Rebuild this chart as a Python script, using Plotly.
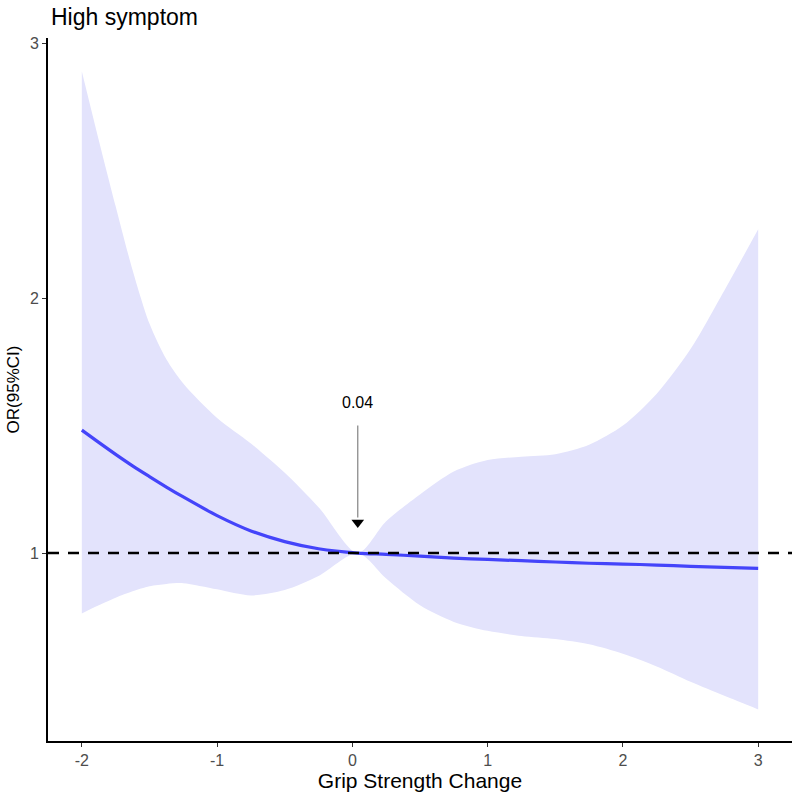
import plotly.graph_objects as go

x_vals = [-2, -1.875, -1.75, -1.625, -1.5, -1.375, -1.25, -1, -0.75, -0.5, -0.25, 0.04, 0.25, 0.5, 0.75,
          1, 1.25, 1.5, 1.75, 2, 2.25, 2.5, 2.75, 3]
or_vals = [1.482, 1.434, 1.387, 1.342, 1.30, 1.259, 1.22, 1.147, 1.087, 1.045, 1.017, 1.0, 0.995, 0.988, 0.98,
           0.975, 0.97, 0.965, 0.96, 0.957, 0.953, 0.948, 0.944, 0.94]
upper_vals = [2.89, 2.62, 2.36, 2.11, 1.90, 1.76, 1.665, 1.53, 1.43, 1.315, 1.18, 1.0, 1.125, 1.23, 1.32,
              1.365, 1.378, 1.388, 1.425, 1.50, 1.625, 1.80, 2.03, 2.27]
lower_vals = [0.763, 0.795, 0.825, 0.85, 0.87, 0.879, 0.882, 0.858, 0.834, 0.855, 0.91, 1.0, 0.90, 0.795, 0.73,
              0.695, 0.675, 0.663, 0.642, 0.605, 0.555, 0.495, 0.44, 0.387]
x_ticks = [-2, -1, 0, 1, 2, 3]
y_ticks = [1, 2, 3]
ref_x = 0.04
ref_label = "0.04"
arrow_top = 1.50
arrow_tip = 1.12
label_y = 1.592

band_color = "rgb(227,227,252)"
line_color = "rgb(68,68,250)"
font_family = "Liberation Sans, Arial"

fig = go.Figure()
fig.add_trace(go.Scatter(x=x_vals, y=lower_vals, mode="lines", line=dict(width=0, shape="spline", smoothing=0.8),
                         showlegend=False, hoverinfo="skip"))
fig.add_trace(go.Scatter(x=x_vals, y=upper_vals, mode="lines", line=dict(width=0, shape="spline", smoothing=0.8),
                         fill="tonexty", fillcolor=band_color, showlegend=False, hoverinfo="skip"))
fig.add_trace(go.Scatter(x=x_vals, y=or_vals, mode="lines",
                         line=dict(color=line_color, width=3.2, shape="spline", smoothing=0.8),
                         showlegend=False))
# arrow shaft
fig.add_trace(go.Scatter(x=[ref_x, ref_x], y=[arrow_top, arrow_tip + 0.02], mode="lines",
                         line=dict(color="rgb(130,130,130)", width=1.2), showlegend=False, hoverinfo="skip"))
# arrow head
fig.add_trace(go.Scatter(x=[ref_x], y=[arrow_tip], mode="markers",
                         marker=dict(symbol="triangle-down", size=11, color="black"),
                         showlegend=False, hoverinfo="skip"))

fig.add_shape(type="line", xref="paper", yref="y", x0=0, x1=1, y0=1, y1=1,
              line=dict(color="black", width=2.6, dash="11px,9px"), layer="above")

fig.add_annotation(x=ref_x, y=label_y, text=ref_label, showarrow=False,
                   font=dict(family=font_family, size=16, color="black"))
fig.add_annotation(xref="paper", yref="paper", x=0, y=1, xanchor="left", yanchor="bottom",
                   xshift=1, yshift=6, text="High symptom", showarrow=False,
                   font=dict(family=font_family, size=23, color="black"))

fig.update_layout(
    width=797, height=797,
    margin=dict(l=48, r=5, t=38, b=56),
    paper_bgcolor="white", plot_bgcolor="white",
    font=dict(family=font_family, color="black"),
    xaxis=dict(range=[-2.25, 3.25], tickvals=x_ticks, ticktext=[str(v) for v in x_ticks],
               showgrid=False, zeroline=False, showline=True, linecolor="black", linewidth=1.6,
               ticks="outside", ticklen=4, tickcolor="rgb(51,51,51)", tickwidth=1.3,
               tickfont=dict(size=16, color="rgb(77,77,77)"),
               title=dict(text="Grip Strength Change", font=dict(size=21, color="black"), standoff=4)),
    yaxis=dict(range=[0.263, 3.02], tickvals=y_ticks, ticktext=[str(v) for v in y_ticks],
               showgrid=False, zeroline=False, showline=True, linecolor="black", linewidth=1.6,
               ticks="outside", ticklen=4, tickcolor="rgb(51,51,51)", tickwidth=1.3,
               tickfont=dict(size=16, color="rgb(77,77,77)"),
               title=dict(text="OR(95%CI)", font=dict(size=17, color="black"), standoff=6)),
)

fig.write_html("out.html")
